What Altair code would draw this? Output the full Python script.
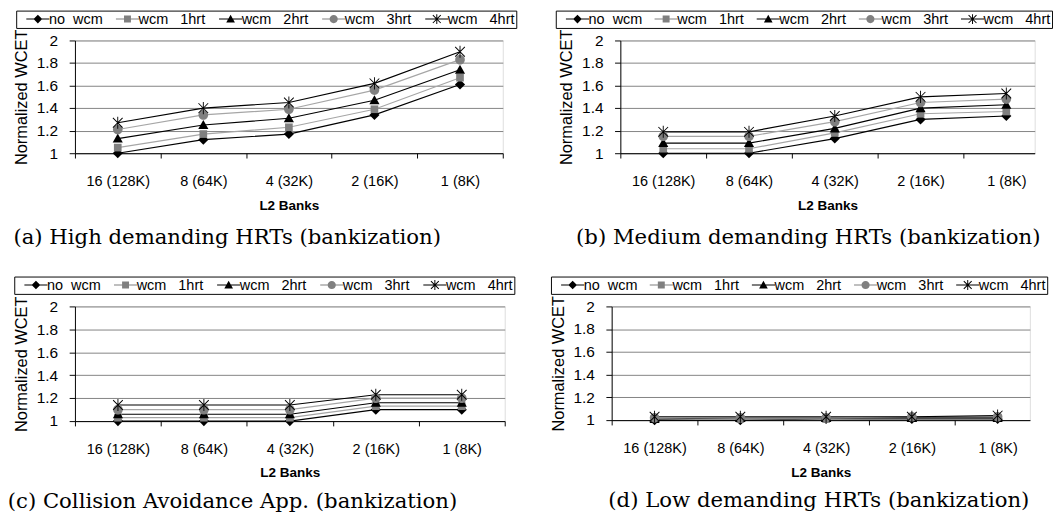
import math
import altair as alt
import pandas as pd

NB = "\u00a0"
categories = ["16 (128K)", "8 (64K)", "4 (32K)", "2 (16K)", "1 (8K)"]
series_names = ["no" + NB + " wcm", "wcm" + NB + NB + " 1hrt", "wcm" + NB + NB + " 2hrt",
                "wcm" + NB + NB + " 3hrt", "wcm" + NB + NB + " 4hrt"]

# panel (a) High demanding HRTs
a_no = [1.00, 1.12, 1.17, 1.34, 1.61]
a_1h = [1.05, 1.17, 1.23, 1.39, 1.67]
a_2h = [1.13, 1.25, 1.31, 1.47, 1.74]
a_3h = [1.21, 1.34, 1.39, 1.56, 1.83]
a_4h = [1.27, 1.40, 1.45, 1.62, 1.90]
# panel (b) Medium demanding HRTs
b_no = [1.00, 1.00, 1.13, 1.30, 1.33]
b_1h = [1.04, 1.04, 1.18, 1.35, 1.37]
b_2h = [1.09, 1.09, 1.22, 1.40, 1.43]
b_3h = [1.15, 1.15, 1.28, 1.45, 1.48]
b_4h = [1.19, 1.19, 1.33, 1.50, 1.53]
# panel (c) Collision Avoidance App.
c_no = [1.00, 1.00, 1.00, 1.10, 1.10]
c_1h = [1.03, 1.03, 1.03, 1.13, 1.13]
c_2h = [1.06, 1.06, 1.06, 1.16, 1.16]
c_3h = [1.10, 1.10, 1.10, 1.20, 1.20]
c_4h = [1.14, 1.14, 1.14, 1.23, 1.23]
# panel (d) Low demanding HRTs
d_no = [1.00, 1.00, 1.01, 1.01, 1.01]
d_1h = [1.01, 1.01, 1.01, 1.02, 1.02]
d_2h = [1.01, 1.02, 1.02, 1.02, 1.02]
d_3h = [1.02, 1.02, 1.02, 1.03, 1.03]
d_4h = [1.03, 1.03, 1.03, 1.03, 1.04]

captions = ["(a) High demanding HRTs (bankization)",
            "(b) Medium demanding HRTs (bankization)",
            "(c) Collision Avoidance App. (bankization)",
            "(d) Low demanding HRTs (bankization)"]

line_colors = ["#000000", "#a6a6a6", "#000000", "#a6a6a6", "#000000"]
marker_colors = ["#000000", "#808080", "#000000", "#808080", "#000000"]

SANS = "Liberation Sans"
SERIF = "DejaVu Serif"


def f(v):
    return f"{v:.3f}"


def seg(x1, y1, x2, y2, t):
    dx, dy = x2 - x1, y2 - y1
    L = math.hypot(dx, dy)
    nx, ny = dy / L * t, -dx / L * t
    return (f"M{f(x1+nx)},{f(y1+ny)}L{f(x2+nx)},{f(y2+ny)}"
            f"L{f(x2-nx)},{f(y2-ny)}L{f(x1-nx)},{f(y1-ny)}Z")


def diamond(s):
    return f"M0,{f(-s)}L{f(s)},0L0,{f(s)}L{f(-s)},0Z"


def square(s):
    a = 0.8 * s
    return f"M{f(-a)},{f(-a)}H{f(a)}V{f(a)}H{f(-a)}Z"


def triangle(s):
    return f"M0,{f(-s)}L{f(s)},{f(0.8*s)}H{f(-s)}Z"


def circle(s):
    r = 0.95 * s
    return f"M{f(-r)},0A{f(r)},{f(r)} 0 1,1 {f(r)},0A{f(r)},{f(r)} 0 1,1 {f(-r)},0Z"


def asterisk(s, t):
    a = 0.8 * s
    return seg(0, -s, 0, s, t) + seg(-a, -a, a, a, t) + seg(-a, a, a, -a, t)


marker_paths = [diamond(1.0), square(0.95), triangle(1.0), circle(1.0), asterisk(1.2, 0.09)]
legend_line = seg(-2, 0, 2, 0, 0.09)
legend_paths = [legend_line + diamond(0.75), legend_line + square(0.75),
                legend_line + triangle(0.75), legend_line + circle(0.75),
                legend_line + asterisk(0.85, 0.085)]

label_expr = f"datum.label + (datum.value === '{series_names[0]}' ? '{NB}{NB}' : '')"

cat_list = "[" + ",".join(f"'{c}'" for c in categories) + "]"
x_label_expr = f"datum.value % 1 == 0 ? {cat_list}[datum.value] : ''"


def make_df(rows):
    recs = []
    for si, vals in enumerate(rows):
        for ci, v in enumerate(vals):
            recs.append({"idx": ci, "cat": categories[ci], "series": series_names[si],
                         "value": v, "sorder": si})
    return pd.DataFrame(recs)


def panel(rows, caption, width, height, xmax, legend_x, legend_y, col_pad, cap_dx, cap_off):
    df = make_df(rows)
    tick_vals = [v / 2 for v in range(-1, 10) if v / 2 <= xmax]
    x = alt.X("idx:Q",
              scale=alt.Scale(domain=[-0.5, xmax], nice=False, zero=False),
              axis=alt.Axis(values=tick_vals, labelExpr=x_label_expr, grid=False,
                            title="L2 Banks", titleFontWeight="bold", titleFontSize=14,
                            titleFont=SANS, titleColor="black", titlePadding=10,
                            labelFont=SANS, labelFontSize=15, labelColor="black",
                            labelPadding=17, labelOverlap=False, labelFlush=False,
                            tickSize=5, tickColor="black", domainColor="black",
                            tickOpacity={"condition": {"test": "datum.value % 1 == 0", "value": 0},
                                         "value": 1}))
    y = alt.Y("value:Q",
              scale=alt.Scale(domain=[1, 2], nice=False, zero=False),
              axis=alt.Axis(values=[1, 1.2, 1.4, 1.6, 1.8, 2], format="~g",
                            title="Normalized WCET", titleFontWeight="normal",
                            titleFontSize=17, titleFont=SANS, titleColor="black",
                            titlePadding=6, labelFont=SANS, labelFontSize=16,
                            labelColor="black", labelPadding=12, tickSize=6,
                            tickColor="black", domainColor="black", grid=True,
                            gridColor="#808080", gridWidth=1))
    leg = alt.Legend(orient="none", legendX=legend_x, legendY=legend_y,
                     direction="horizontal", columns=5,
                     title=NB, titleOrient="left", titlePadding=8,
                     titleFontSize=14, strokeColor="black",
                     fillColor="white", padding=1,
                     columnPadding=col_pad, labelFont=SANS,
                     labelFontSize=15, labelColor="black",
                     symbolSize=144, symbolOffset=6, labelOffset=4,
                     symbolStrokeWidth=0, symbolOpacity=1,
                     labelExpr=label_expr)
    base = alt.Chart(df)
    lines = base.mark_line(strokeWidth=1.2).encode(
        x=x, y=y,
        stroke=alt.Stroke("series:N", scale=alt.Scale(domain=series_names, range=line_colors),
                          legend=None),
        detail="series:N",
    )
    points = base.mark_point(filled=True, size=110, opacity=1, strokeWidth=0).encode(
        x=x, y=y,
        shape=alt.Shape("series:N", scale=alt.Scale(domain=series_names, range=marker_paths),
                        legend=None),
        fill=alt.Fill("series:N", scale=alt.Scale(domain=series_names, range=marker_colors),
                      legend=None),
        order=alt.Order("sorder:Q"),
    )
    legend_layer = base.mark_point(filled=True, size=144, opacity=0, strokeWidth=0).encode(
        x=x, y=y,
        shape=alt.Shape("series:N", scale=alt.Scale(domain=series_names, range=legend_paths),
                        legend=leg),
        fill=alt.Fill("series:N", scale=alt.Scale(domain=series_names, range=marker_colors),
                      legend=leg),
    )
    return alt.layer(lines, points, legend_layer).resolve_scale(
        shape="independent", fill="independent"
    ).properties(
        width=width, height=height,
        title=alt.TitleParams(caption, orient="bottom", anchor="middle", frame="group",
                              dx=cap_dx, offset=cap_off, font=SERIF, fontSize=22,
                              fontWeight="normal", color="black"),
    )


pa = panel([a_no, a_1h, a_2h, a_3h, a_4h], captions[0], 444, 117, 4.5, -61, -31, 12, -64, 16)
pb = panel([b_no, b_1h, b_2h, b_3h, b_4h], captions[1], 430, 117, 4.331, -67, -31, 11, -20, 16)
pc = panel([c_no, c_1h, c_2h, c_3h, c_4h], captions[2], 446, 119, 4.5, -63, -31, 12, -59.5, 12)
pd_ = panel([d_no, d_1h, d_2h, d_3h, d_4h], captions[3], 434, 118, 4.376, -63, -31, 11, -2, 12)

row1 = alt.hconcat(pa, pb, spacing=39)
row2 = alt.hconcat(pc, pd_, spacing=35)
chart = alt.vconcat(row1, row2, spacing=28).properties(
    padding={"left": -1.5, "top": -8, "right": 0, "bottom": 0}
).configure_view(stroke="#8c8c8c").configure(background="white")

chart.save("out.html", embed_options={"renderer": "svg", "actions": False})
